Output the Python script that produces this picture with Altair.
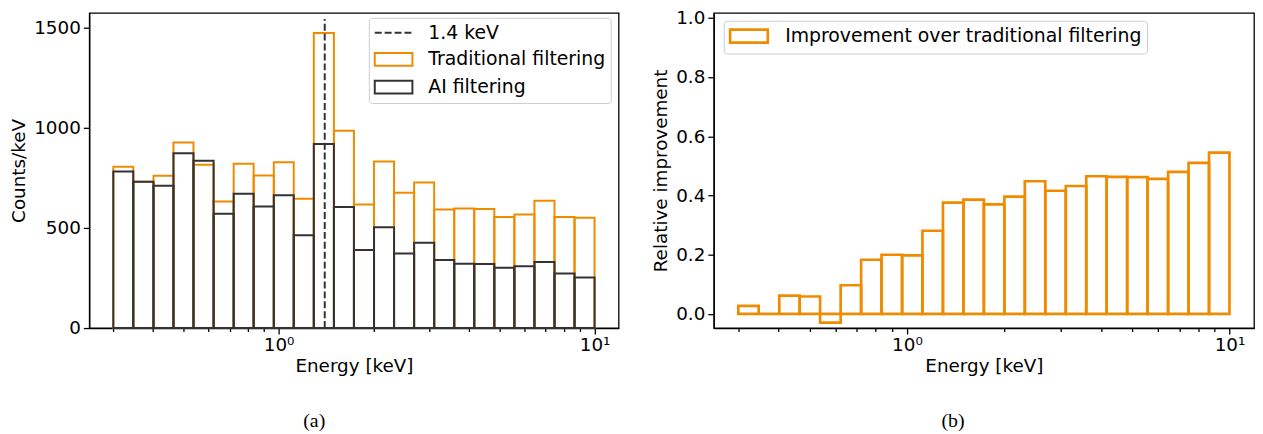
import altair as alt
import pandas as pd

# ---- data ----
edges = [0.300, 0.347, 0.402, 0.465, 0.538, 0.623, 0.721, 0.834, 0.966, 1.117,
         1.293, 1.497, 1.732, 2.005, 2.320, 2.685, 3.108, 3.597, 4.162, 4.817,
         5.575, 6.452, 7.468, 8.642, 10.0]
trad = [806, 731, 761, 928, 816, 633, 821, 763, 829, 646, 1475, 986,
        618, 833, 677, 728, 593, 598, 595, 555, 568, 636, 555, 552]
ai = [783, 731, 712, 874, 837, 571, 671, 608, 664, 464, 920, 605,
      390, 504, 373, 426, 340, 322, 320, 301, 309, 330, 273, 253]
improvement = [0.027, 0.0, 0.062, 0.059, -0.029, 0.097, 0.183, 0.200, 0.198, 0.281,
               0.376, 0.386, 0.370, 0.396, 0.448, 0.416, 0.432, 0.465, 0.463, 0.462,
               0.456, 0.480, 0.510, 0.545]
line_energy = [1.4]
line_top = [1545]
series_left = ["1.4 keV", "Traditional filtering", "AI filtering"]
series_right = ["Improvement over traditional filtering"]
major_ticks = [1, 10]
minor_ticks = [0.3, 0.4, 0.5, 0.6, 0.7, 0.8, 0.9, 2, 3, 4, 5, 6, 7, 8, 9]

ORANGE = "#ef8b00"
DARK = "#333333"
FONT = "DejaVu Sans"
FS = 18.5
LFS = 19

df = pd.DataFrame({"lo": edges[:-1], "hi": edges[1:], "trad": trad, "ai": ai,
                   "imp": improvement, "zero": [0] * len(trad)})
rule_df = pd.DataFrame({"x": line_energy, "y0": [0], "y1": line_top})
leg_left_df = pd.DataFrame({"series": series_left, "x": [1.0] * 3, "y": [0] * 3})
leg_right_df = pd.DataFrame({"series2": series_right, "x": [1.0], "y": [0]})

xdomain = [0.2518, 11.915]
tick_vals = sorted(minor_ticks + major_ticks)
H = 318


def x_axis():
    return alt.Axis(
        values=tick_vals,
        labelExpr="datum.value == 1 ? '10⁰' : (datum.value == 10 ? '10¹' : '')",
        tickSize={"condition": {"test": "datum.value == 1 || datum.value == 10", "value": 6},
                  "value": 3.5},
        labelOverlap=False, labelFlush=False, labelPadding=2,
        labelFontSize=FS, titleFontSize=FS,
        title="Energy [keV]", titlePadding=2,
    )


def xs(field):
    return alt.X(field, type="quantitative",
                 scale=alt.Scale(type="log", domain=xdomain, nice=False), axis=x_axis())


yaxis_left = alt.Axis(values=[0, 500, 1000, 1500], format="d", title="Counts/keV",
                      tickSize=6, labelPadding=3, titlePadding=5,
                      labelFontSize=FS, titleFontSize=FS)
yscale_left = alt.Scale(domain=[0, 1576], nice=False, zero=False)


def yl(field):
    return alt.Y(field, type="quantitative", scale=yscale_left, axis=yaxis_left)


trad_l = alt.Chart(df).mark_rect(filled=False, stroke=ORANGE, strokeWidth=2).encode(
    x=xs("lo"), x2="hi", y=yl("trad"), y2="zero")
ai_l = alt.Chart(df).mark_rect(filled=False, stroke=DARK, strokeWidth=2).encode(
    x=xs("lo"), x2="hi", y=yl("ai"), y2="zero")
rule_l = alt.Chart(rule_df).mark_rule(color=DARK, strokeWidth=2, strokeDash=[7, 3]).encode(
    x=xs("x"), y=yl("y0"), y2="y1")

legend_left = alt.Legend(title=None, orient="none", legendX=282, legendY=5,
                         labelFontSize=LFS,
                         labelFont=FONT, labelColor="black", symbolSize=324,
                         symbolStrokeWidth=2, labelOffset=35, padding=5, rowPadding=6,
                         fillColor="white", strokeColor="#cccccc", cornerRadius=3,
                         labelLimit=400)
leg_l = alt.Chart(leg_left_df).mark_point(filled=False, opacity=1).encode(
    x=xs("x"), y=yl("y"),
    color=alt.Color("series:N", scale=alt.Scale(domain=series_left, range=[DARK, ORANGE, DARK]),
                    legend=legend_left),
    shape=alt.Shape("series:N", scale=alt.Scale(domain=series_left,
                    range=["M-1,0H3.22", "M-1,-0.72H3.22V0.72H-1Z", "M-1,-0.72H3.22V0.72H-1Z"]),
                    legend=legend_left),
    strokeDash=alt.StrokeDash("series:N", scale=alt.Scale(domain=series_left,
                              range=[[7, 3], [1, 0], [1, 0]]), legend=legend_left),
).transform_filter("false")

left = alt.layer(trad_l, ai_l, rule_l, leg_l).properties(
    width=534, height=H,
    title=alt.TitleParams("(a)", orient="bottom", font="Liberation Serif", fontSize=20,
                          fontWeight="normal", color="black", offset=37, anchor="middle",
                          frame="bounds"))

# ---- right panel ----
yaxis_right = alt.Axis(values=[0, 0.2, 0.4, 0.6, 0.8, 1.0], format=".1f",
                       title="Relative improvement", tickSize=6, labelPadding=3, titlePadding=5,
                       labelFontSize=FS, titleFontSize=FS)
yscale_right = alt.Scale(domain=[-0.0476, 1.0167], nice=False, zero=False)


def yr(field):
    return alt.Y(field, type="quantitative", scale=yscale_right, axis=yaxis_right)


imp_l = alt.Chart(df).mark_rect(filled=False, stroke=ORANGE, strokeWidth=2.7).encode(
    x=xs("lo"), x2="hi", y=yr("imp"), y2="zero")

legend_right = alt.Legend(title=None, orient="none", legendX=10, legendY=8,
                          labelFontSize=LFS,
                          labelFont=FONT, labelColor="black", symbolSize=324,
                          symbolStrokeWidth=2.7, labelOffset=36, padding=5,
                          fillColor="white", strokeColor="#cccccc", cornerRadius=3,
                          labelLimit=500)
leg_r = alt.Chart(leg_right_df).mark_point(filled=False, opacity=1).encode(
    x=xs("x"), y=yr("y"),
    color=alt.Color("series2:N", scale=alt.Scale(domain=series_right, range=[ORANGE]),
                    legend=legend_right),
    shape=alt.Shape("series2:N", scale=alt.Scale(domain=series_right,
                    range=["M-1,-0.72H3.22V0.72H-1Z"]), legend=legend_right),
).transform_filter("false")

right = alt.layer(imp_l, leg_r).properties(
    width=545, height=H,
    title=alt.TitleParams("(b)", orient="bottom", font="Liberation Serif", fontSize=20,
                          fontWeight="normal", color="black", offset=37, anchor="middle",
                          frame="bounds"))

chart = alt.hconcat(left, right, spacing=31).resolve_scale(
    x="independent", y="independent", color="independent", shape="independent",
    strokeDash="independent"
).properties(
    padding={"left": 1, "top": -2, "right": 0, "bottom": 0}
).configure_view(
    stroke="black", strokeWidth=1.3
).configure_axis(
    grid=False, labelFont=FONT, titleFont=FONT, labelFontSize=FS, titleFontSize=FS,
    titleFontWeight="normal", labelColor="black", titleColor="black",
    tickColor="black", domainColor="black", tickWidth=1.3, domainWidth=1.3
)

chart.save("out.html", embed_options={"renderer": "svg", "actions": False})
